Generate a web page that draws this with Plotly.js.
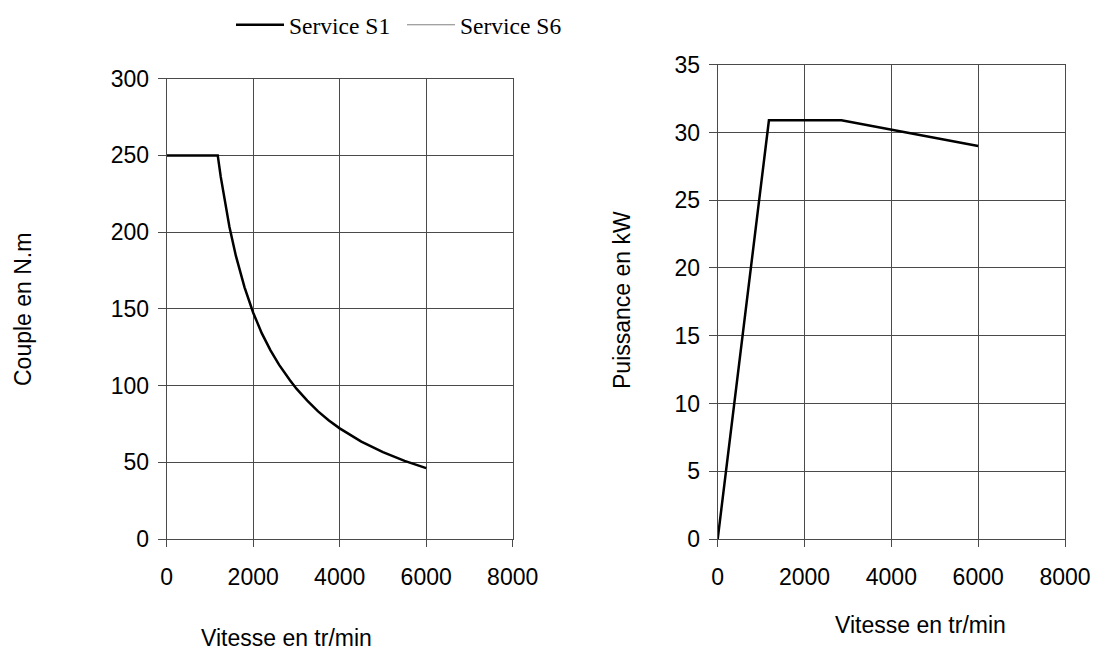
<!DOCTYPE html>
<html>
<head>
<meta charset="utf-8">
<script src="https://cdn.plot.ly/plotly-3.0.1.min.js"></script>
<style>html,body{margin:0;padding:0;background:#fff;}#chart{width:1094px;height:664px;}</style>
</head>
<body>
<div id="chart"></div>
<script>
// Torque curve (Service S1)
var speedTorque = [0, 1180, 1250, 1350, 1450, 1600, 1800, 2000, 2200, 2400, 2600, 2850, 3000, 3250, 3500, 3750, 4000, 4500, 5000, 5500, 6000];
var torqueS1    = [250, 250, 236, 218.5, 203.5, 184.5, 164, 147.5, 134, 123, 113.5, 103.5, 98, 90.2, 83.2, 77.3, 72.1, 63.5, 56.6, 50.9, 46.2];
// Power curve (Service S1)
var speedPower = [0, 1180, 2850, 6000];
var powerS1    = [0, 30.9, 30.9, 29.0];
// Service S6 (no visible data in the chart, legend entry only)
var speedS6 = [null];
var valuesS6 = [null];
// Tick values
var xTicks = [0, 2000, 4000, 6000, 8000];
var yTicksTorque = [0, 50, 100, 150, 200, 250, 300];
var yTicksPower = [0, 5, 10, 15, 20, 25, 30, 35];

var W = 1094, H = 664;
var gridCol = '#4a4a4a';
var sans = 'Liberation Sans, Arial, sans-serif';
var serif = 'Liberation Serif, Times New Roman, serif';

var traces = [
  {x: speedTorque, y: torqueS1, type: 'scatter', mode: 'lines', name: 'Service S1',
   line: {color: '#000', width: 2.5}, xaxis: 'x', yaxis: 'y', showlegend: true},
  {x: speedS6, y: valuesS6, type: 'scatter', mode: 'lines', name: 'Service S6',
   line: {color: '#808080', width: 1}, xaxis: 'x', yaxis: 'y', showlegend: true},
  {x: speedPower, y: powerS1, type: 'scatter', mode: 'lines', name: 'Service S1',
   line: {color: '#000', width: 2.5}, xaxis: 'x2', yaxis: 'y2', showlegend: false}
];

function xAx(dom, anchor) {
  return {domain: dom, anchor: anchor, range: [0, 8000], tickvals: xTicks, ticktext: xTicks.map(String),
    showgrid: true, gridcolor: gridCol, gridwidth: 1, zeroline: false,
    showline: true, linecolor: gridCol, linewidth: 1, mirror: true,
    ticks: 'outside', ticklen: 7, tickcolor: gridCol, tickwidth: 1,
    ticklabelstandoff: 10, tickfont: {family: sans, size: 23, color: '#000'}, fixedrange: true};
}
function yAx(dom, anchor, rng, vals) {
  return {domain: dom, anchor: anchor, range: rng, tickvals: vals, ticktext: vals.map(String),
    showgrid: true, gridcolor: gridCol, gridwidth: 1, zeroline: false,
    showline: true, linecolor: gridCol, linewidth: 1, mirror: true,
    ticks: 'outside', ticklen: 8, tickcolor: gridCol, tickwidth: 1,
    ticklabelstandoff: 4, tickfont: {family: sans, size: 23, color: '#000'}, fixedrange: true};
}

var layout = {
  width: W, height: H,
  margin: {l: 0, r: 0, t: 0, b: 0},
  paper_bgcolor: '#fff', plot_bgcolor: '#fff',
  showlegend: true,
  legend: {orientation: 'h', x: 231 / W, y: 1 - 3 / H, xanchor: 'left', yanchor: 'top',
    font: {family: serif, size: 23.5, color: '#000'}, itemwidth: 48,
    entrywidth: 108, entrywidthmode: 'pixels', tracegroupgap: 0,
    bgcolor: 'rgba(0,0,0,0)'},
  xaxis: xAx([166.7 / W, 512.7 / W], 'y'),
  yaxis: yAx([125 / H, (H - 78.7) / H], 'x', [0, 300], yTicksTorque),
  xaxis2: xAx([717.7 / W, 1065 / W], 'y2'),
  yaxis2: yAx([125 / H, (H - 64.7) / H], 'x2', [0, 35], yTicksPower),
  annotations: [
    {text: 'Couple en N.m', xref: 'paper', yref: 'paper', x: 23 / W, y: 1 - 310 / H,
     xanchor: 'center', yanchor: 'middle', textangle: -90, showarrow: false,
     font: {family: sans, size: 23, color: '#000'}},
    {text: 'Puissance en kW', xref: 'paper', yref: 'paper', x: 622 / W, y: 1 - 300 / H,
     xanchor: 'center', yanchor: 'middle', textangle: -90, showarrow: false,
     font: {family: sans, size: 23, color: '#000'}},
    {text: 'Vitesse en tr/min', xref: 'paper', yref: 'paper', x: 286 / W, y: 1 - 638 / H,
     xanchor: 'center', yanchor: 'middle', showarrow: false,
     font: {family: sans, size: 23, color: '#000'}},
    {text: 'Vitesse en tr/min', xref: 'paper', yref: 'paper', x: 920 / W, y: 1 - 625 / H,
     xanchor: 'center', yanchor: 'middle', showarrow: false,
     font: {family: sans, size: 23, color: '#000'}}
  ]
};

Plotly.newPlot('chart', traces, layout, {displayModeBar: false, staticPlot: true});
</script>
</body>
</html>
